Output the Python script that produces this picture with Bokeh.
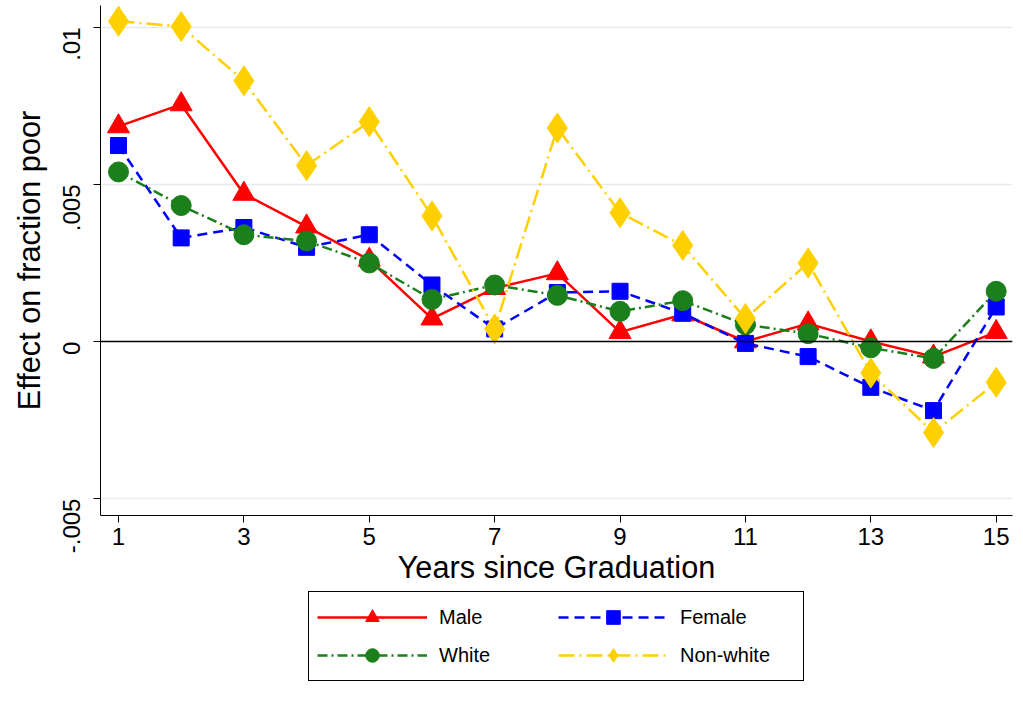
from bokeh.plotting import figure
from bokeh.layouts import column
from bokeh.models import Legend, LegendItem, Span, FixedTicker, Range1d
from bokeh.embed import file_html
from bokeh.resources import INLINE
import math

years = list(range(1, 16))
male = [0.00685, 0.00755, 0.0047, 0.00366, 0.0026, 0.00073, 0.0017, 0.00217, 0.0003, 0.00086, 0.0, 0.00057, 0.0, -0.00048, 0.0003]
female = [0.00624, 0.0033, 0.00363, 0.0030, 0.0034, 0.0018, 0.0004, 0.00156, 0.0016, 0.0009, -0.00006, -0.00048, -0.00146, -0.0022, 0.0011]
white = [0.0054, 0.00433, 0.0034, 0.0032, 0.0025, 0.00134, 0.0018, 0.00147, 0.00096, 0.0013, 0.00054, 0.00025, -0.0002, -0.00054, 0.0016]
nonwhite = [0.0102, 0.01003, 0.0083, 0.0056, 0.007, 0.004, 0.0004, 0.0068, 0.0041, 0.00306, 0.00073, 0.0025, -0.001, -0.0029, -0.0013]

series = [
    ("Male", male, "#FF0000", "solid", "triangle", 22),
    ("Female", female, "#0000FF", "10 6", "square", 16),
    ("White", white, "#1B7F1B", "10 4 2 4", "circle", 20),
    ("Non-white", nonwhite, "#FFD000", "16 5 2 5", "diamond", 30),
]

FONT = "Liberation Sans"
p = figure(frame_width=912, frame_height=510, output_backend="svg", toolbar_location=None,
           x_range=Range1d(0.713, 15.26), y_range=Range1d(-0.00554, 0.0107))
p.min_border_top = 5
p.min_border_right = 3
p.min_border_left = 100
p.min_border_bottom = 0
p.outline_line_color = None
p.xgrid.grid_line_color = None
p.ygrid.ticker = FixedTicker(ticks=[-0.005, 0.005, 0.01])
p.ygrid.grid_line_color = "#e5ecef"
p.ygrid.grid_line_width = 1.5

p.xaxis.ticker = FixedTicker(ticks=[1, 3, 5, 7, 9, 11, 13, 15])
p.yaxis.ticker = FixedTicker(ticks=[-0.005, 0, 0.005, 0.01])
p.yaxis.major_label_overrides = {-0.005: "-.005", 0: "0", 0.005: ".005", 0.01: ".01"}
p.yaxis.major_label_orientation = math.pi / 2
p.xaxis.axis_label = "Years since Graduation"
p.yaxis.axis_label = "Effect on fraction poor"
for ax in (p.xaxis[0], p.yaxis[0]):
    ax.axis_label_text_font = FONT
    ax.axis_label_text_font_size = "23pt"
    ax.axis_label_text_font_style = "normal"
    ax.axis_label_text_color = "black"
    ax.major_label_text_font = FONT
    ax.major_label_text_font_size = "18pt"
    ax.major_label_text_color = "black"
    ax.axis_line_color = "black"
    ax.major_tick_line_color = "black"
    ax.minor_tick_line_color = None
    ax.major_tick_out = 7
    ax.major_tick_in = 0
    ax.axis_label_standoff = 2
p.yaxis.major_label_standoff = 22
p.yaxis.axis_label_standoff = 6

p.add_layout(Span(location=0, dimension="width", line_color="black", line_width=1.5))

# separate legend panel underneath
lg = figure(frame_width=912, height=100, output_backend="svg", toolbar_location=None,
            x_range=Range1d(0, 1), y_range=Range1d(0, 1))
lg.axis.visible = False
lg.grid.visible = False
lg.outline_line_color = None
lg.min_border = 0
lg.min_border_left = 100
lg.min_border_right = 3

items = []
for name, vals, col, dash, mk, sz in series:
    p.line(years, vals, color=col, line_width=2.5, line_dash=dash)
    p.scatter(years, vals, marker=mk, size=sz, color=col)
    # legend swatch renderers: points placed off-canvas
    a = lg.line([-5, -4], [-5, -4], color=col, line_width=2.5, line_dash=dash)
    b = lg.scatter([-5], [-5], marker=mk, size=sz, color=col)
    items.append(LegendItem(label=name, renderers=[a, b]))

legend = Legend(items=items, ncols=2, location="center", orientation="horizontal")
legend.label_text_font = FONT
legend.label_text_font_size = "15pt"
legend.label_text_color = "black"
legend.glyph_width = 110
legend.glyph_height = 34
legend.label_width = 115
legend.label_standoff = 12
legend.spacing = 4
legend.border_line_color = "black"
legend.border_line_width = 1.5
legend.border_line_alpha = 1
legend.padding = 8
lg.add_layout(legend, "center")

open("out.html", "w").write(file_html(column(p, lg, spacing=0), INLINE))
